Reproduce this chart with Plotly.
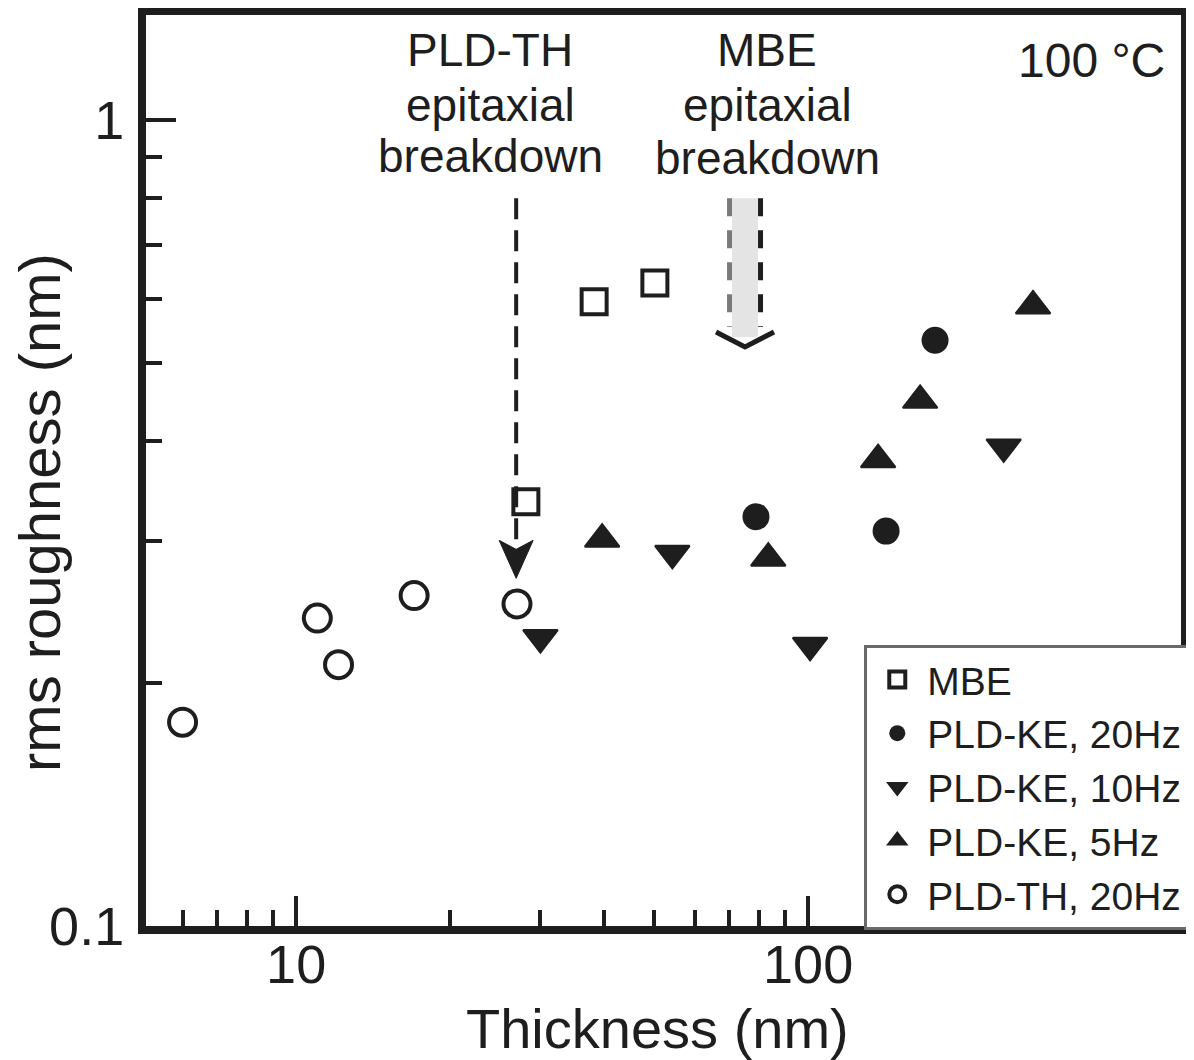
import math
import plotly.graph_objects as go

# ---------------- data ----------------
series_names = ["MBE", "PLD-KE, 20Hz", "PLD-KE, 10Hz", "PLD-KE, 5Hz", "PLD-TH, 20Hz"]

mbe_x = [28.1, 38.2, 50.2]
mbe_y = [0.336, 0.595, 0.628]

ke20_x = [79.1, 142.0, 177.0]
ke20_y = [0.322, 0.309, 0.533]

ke10_x = [30.0, 54.3, 100.9, 241.0]
ke10_y = [0.228, 0.290, 0.223, 0.393]

ke5_x = [39.6, 83.6, 137.0, 165.5, 275.0]
ke5_y = [0.302, 0.286, 0.379, 0.449, 0.588]

th_x = [6.0, 11.0, 12.1, 17.0, 27.0]
th_y = [0.179, 0.241, 0.211, 0.257, 0.251]

x_tickvals = [10, 100]
x_ticktext = ["10", "100"]
y_tickvals = [0.1, 1]
y_ticktext = ["0.1", "1"]
x_minor_vals = [6, 7, 8, 9, 20, 30, 40, 50, 60, 70, 80, 90, 200, 300, 400, 500]
y_minor_vals = [0.2, 0.3, 0.4, 0.5, 0.6, 0.7, 0.8, 0.9]

x_range_nm = (5.09, 535.0)
y_range_nm = (0.1, 1.35)

# annotation anchors (data units)
pld_arrow_x = 26.9
pld_arrow_y = (0.80, 0.270)
mbe_arrow_x = 75.3
mbe_arrow_y = (0.80, 0.538, 0.5535, 0.523)

# ---------------- geometry helpers ----------------
PAGE_OFFSET = 8  # default body margin of the page
W, H = 1194 - PAGE_OFFSET, 1060 - PAGE_OFFSET
ML, MR, MT, MB = 146 - PAGE_OFFSET, 13, 15 - PAGE_OFFSET, 134
PW, PH = W - ML - MR, H - MT - MB
X0_SCREEN, Y1_SCREEN = 146, 926  # plot area left / bottom on screen
XL = (math.log10(x_range_nm[0]), math.log10(x_range_nm[1]))
YL = (math.log10(y_range_nm[0]), math.log10(y_range_nm[1]))


def xp(v, dpx=0.0):
    return (math.log10(v) - XL[0]) / (XL[1] - XL[0]) + dpx / PW


def yp(v, dpx=0.0):
    return (math.log10(v) - YL[0]) / (YL[1] - YL[0]) + dpx / PH


def xpx(px):
    return (px - X0_SCREEN) / PW


def ypx(py):
    return (Y1_SCREEN - py) / PH


INK = "#1e1e1e"
FONT = "Liberation Sans, Arial, Helvetica, sans-serif"

fig = go.Figure()

styles = [
    dict(symbol="square-open", size=25, color=INK, line=dict(width=4, color=INK)),
    dict(symbol="circle", size=27, color=INK, line=dict(width=0)),
    dict(symbol="triangle-down", size=30, color=INK, line=dict(width=2, color=INK)),
    dict(symbol="triangle-up", size=30, color=INK, line=dict(width=2, color=INK)),
    dict(symbol="circle-open", size=27, color=INK, line=dict(width=4, color=INK)),
]
xs = [mbe_x, ke20_x, ke10_x, ke5_x, th_x]
ys = [mbe_y, ke20_y, ke10_y, ke5_y, th_y]
for name, x, y, st in zip(series_names, xs, ys, styles):
    fig.add_trace(go.Scatter(x=x, y=y, mode="markers", name=name, marker=st))

shapes = []
# PLD-TH dashed arrow
shapes.append(dict(type="line", xref="paper", yref="paper",
                   x0=xp(pld_arrow_x), x1=xp(pld_arrow_x),
                   y0=yp(pld_arrow_y[0]), y1=yp(pld_arrow_y[1], 30),
                   line=dict(color=INK, width=4, dash="21px,11px")))
tx, ty = xp(pld_arrow_x), yp(pld_arrow_y[1])
shapes.append(dict(type="path", xref="paper", yref="paper",
                   path=f"M {tx},{ty} L {tx - 17 / PW},{ty + 38 / PH} L {tx},{ty + 29 / PH} "
                        f"L {tx + 17 / PW},{ty + 38 / PH} Z",
                   fillcolor=INK, line=dict(color=INK, width=1)))
# MBE shaded arrow
cx = mbe_arrow_x
shapes.append(dict(type="rect", xref="paper", yref="paper",
                   x0=xp(cx, -13), x1=xp(cx, 13),
                   y0=yp(mbe_arrow_y[1]), y1=yp(mbe_arrow_y[0]),
                   fillcolor="#e4e4e4", line=dict(width=0), layer="below"))
shapes.append(dict(type="line", xref="paper", yref="paper",
                   x0=xp(cx, -15.5), x1=xp(cx, -15.5),
                   y0=yp(mbe_arrow_y[0]), y1=yp(mbe_arrow_y[2]),
                   line=dict(color="#7a7a7a", width=5, dash="18px,14px")))
shapes.append(dict(type="line", xref="paper", yref="paper",
                   x0=xp(cx, 15.5), x1=xp(cx, 15.5),
                   y0=yp(mbe_arrow_y[0]), y1=yp(mbe_arrow_y[2]),
                   line=dict(color=INK, width=5, dash="18px,14px")))
ax_, ay_ = xp(cx), yp(mbe_arrow_y[3])
shapes.append(dict(type="path", xref="paper", yref="paper",
                   path=f"M {ax_ - 29 / PW},{ay_ + 15 / PH} L {ax_},{ay_} L {ax_ + 29 / PW},{ay_ + 15 / PH}",
                   line=dict(color=INK, width=5)))

annotations = []


def txt(text, x, y, size, xanchor="center", angle=0):
    annotations.append(dict(text=text, x=x, y=y, xref="paper", yref="paper",
                            xanchor=xanchor, yanchor="middle", showarrow=False,
                            textangle=angle,
                            font=dict(family=FONT, size=size, color=INK)))


for line_text, base in zip(["PLD-TH", "epitaxial", "breakdown"], [67, 122, 173]):
    txt(line_text, xpx(490), ypx(base - 17), 46)
for line_text, base in zip(["MBE", "epitaxial", "breakdown"], [67, 122, 175]):
    txt(line_text, xpx(767), ypx(base - 17), 46)
txt("100 °C", xpx(1167), ypx(61), 48, xanchor="right")
txt("Thickness (nm)", xpx(657), ypx(1028), 56)
txt("rms roughness (nm)", xpx(39), ypx(513), 58, angle=-90)

axis_common = dict(type="log", showline=True, linewidth=8, linecolor=INK, mirror=True,
                   ticks="inside", ticklen=30, tickwidth=4, tickcolor=INK,
                   showgrid=False, zeroline=False,
                   tickfont=dict(family=FONT, size=54, color=INK))

fig.update_xaxes(range=list(XL), tickvals=x_tickvals, ticktext=x_ticktext,
                 minor=dict(tickvals=x_minor_vals, ticks="inside", ticklen=16, tickwidth=4,
                            tickcolor=INK, showgrid=False),
                 ticklabelstandoff=-16, **axis_common)
fig.update_yaxes(range=list(YL), tickvals=y_tickvals, ticktext=y_ticktext,
                 minor=dict(tickvals=y_minor_vals, ticks="inside", ticklen=16, tickwidth=4,
                            tickcolor=INK, showgrid=False),
                 ticklabelstandoff=3, **axis_common)

fig.update_layout(
    width=W, height=H,
    margin=dict(l=ML, r=MR, t=MT, b=MB, autoexpand=False),
    paper_bgcolor="white", plot_bgcolor="white",
    font=dict(family=FONT, color=INK),
    showlegend=True,
    legend=dict(x=1.008, xanchor="right", y=-0.004, yanchor="bottom",
                bgcolor="white", bordercolor="#6a6a6a", borderwidth=3,
                font=dict(family=FONT, size=39, color=INK),
                itemwidth=50, tracegroupgap=0),
    shapes=shapes, annotations=annotations,
)

fig.write_html("out.html")
